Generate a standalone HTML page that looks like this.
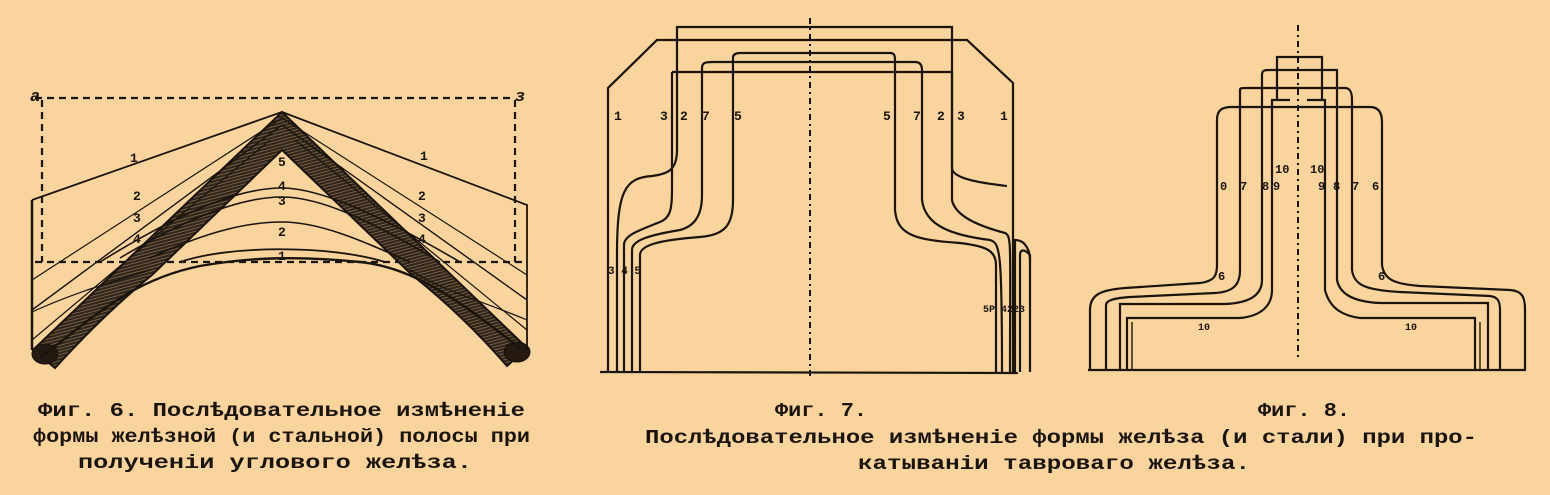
<!DOCTYPE html>
<html><head><meta charset="utf-8"><style>
html,body{margin:0;padding:0;background:#f9d49d;}
svg{display:block}
text{font-family:"Liberation Mono","DejaVu Sans Mono",monospace;font-weight:bold;fill:#1a140c}
</style></head><body>
<svg width="1550" height="495" viewBox="0 0 1550 495" xmlns="http://www.w3.org/2000/svg">
<defs>
<pattern id="h" width="3" height="3" patternUnits="userSpaceOnUse" patternTransform="rotate(-15)">
<rect width="3" height="3" fill="#2e2419"/><line x1="0" y1="1" x2="3" y2="1" stroke="#a88560" stroke-width="0.6"/>
</pattern>
</defs>
<g fill="none" stroke="#1a140c">
<!-- Fig 6 -->
<g stroke-width="2.2" stroke-dasharray="7,5">
<line x1="35" y1="98" x2="515" y2="98"/>
<line x1="42" y1="100" x2="42" y2="262"/>
<line x1="515" y1="100" x2="515" y2="262"/>
<line x1="35" y1="262" x2="525" y2="262"/>
</g>
<path d="M33,350 L282,112 L527,348 L507,366 C480,335 450,305 412,275 L282,150 L152,275 C115,305 85,335 55,368 Z" fill="url(#h)" stroke-width="2"/>
<ellipse cx="45" cy="354" rx="13" ry="10" fill="#241a12"/>
<ellipse cx="517" cy="352" rx="13" ry="10" fill="#241a12"/>
<path d="M40,358 C90,320 130,280 200,266 C250,257 300,256 360,262 C420,268 470,310 520,348" stroke-width="2.4"/>
<path d="M32,200 L282,112 L527,205 L527,350" stroke-width="1.8"/>
<path d="M32,200 V350" stroke-width="2.5"/>
<path d="M32,280 L282,118 L527,275" stroke-width="1.2"/>
<path d="M32,310 L282,125 L527,300" stroke-width="1.4"/>
<path d="M32,340 L270,140 M295,140 L527,330" stroke-width="1.2"/>
<path d="M180,262 C230,245 330,245 385,262" stroke-width="1.8"/>
<path d="M150,258 C210,230 250,222 282,222 C320,222 360,240 410,262" stroke-width="1.6"/>
<path d="M120,258 C200,210 250,197 282,197 C320,197 370,220 440,262" stroke-width="1.6"/>
<path d="M100,262 C200,200 250,188 282,188 C320,188 380,215 460,262" stroke-width="1.6"/>
<path d="M32,312 C80,290 120,280 150,270 M527,320 C480,300 440,290 410,270" stroke-width="1.2"/>
<!-- Fig 7 -->
<g stroke-width="2.2">
<path d="M608,372 V88 L657,40 H967 L1013,83 V372"/>
<line x1="600" y1="372" x2="1018" y2="373"/>
<path d="M617,372 V255 C617,190 625,178 652,176 C668,174 677,170 677,150 V27 H952 V168 C952,180 990,184 1007,186"/>
<path d="M672,72 H952"/>
<path d="M624,372 V245 C624,235 640,230 660,222 C670,218 672,210 672,190 V72"/>
<path d="M952,72 V200 C955,215 975,225 1005,233 C1012,236 1010,245 1010,372"/>
<path d="M632,372 V250 C632,240 650,235 680,230 C695,226 702,215 702,195 V68 C702,63 705,62 712,62 H915 C920,62 922,65 922,70 V200 C925,225 950,235 990,240 C1000,243 1002,250 1002,372"/>
<path d="M640,372 V255 C640,245 660,240 700,237 C725,235 733,225 733,200 V58 C733,54 736,53 740,53 H890 C894,53 895,55 895,60 V210 C897,235 915,240 960,243 C985,246 996,250 996,265 V372"/>
<path d="M1020,372 V255 C1020,250 1024,248 1030,255 V372"/>
<path d="M1015,372 V240 C1025,240 1030,250 1030,260"/>
</g>
<line x1="810" y1="18" x2="810" y2="378" stroke-width="2" stroke-dasharray="6,4,2,4"/>
<!-- Fig 8 -->
<line x1="1298" y1="25" x2="1298" y2="360" stroke-width="2" stroke-dasharray="6,4,2,4"/>
<g stroke-width="2.2">
<path d="M1090,370 V310 C1090,295 1100,290 1125,288 L1200,283 C1215,281 1217,275 1217,265 V120 C1217,110 1222,107 1232,107 H1370 C1378,107 1382,112 1382,122 V265 C1384,280 1395,284 1420,286 L1510,290 C1523,291 1525,298 1525,310 V370"/>
<line x1="1088" y1="370" x2="1526" y2="370"/>
<path d="M1106,370 V305 C1106,300 1115,298 1130,297 L1215,293 C1233,292 1240,285 1240,270 V90 C1240,88 1242,88 1246,88 H1345 C1350,88 1352,92 1352,100 V270 C1354,285 1365,290 1400,292 L1490,296 C1497,297 1500,300 1500,310 V370"/>
<path d="M1120,370 V304 H1225 C1250,303 1262,295 1262,280 V75 C1262,70 1265,70 1270,70 H1337 V280 C1340,295 1355,302 1380,303 H1488 V370"/>
<path d="M1127,370 V318 H1240 C1262,316 1272,305 1272,290 V100 H1290 M1307,100 H1325 V290 C1330,310 1345,316 1360,318 H1475 V370"/>
<path d="M1277,100 V57 H1322 V100"/>
<path d="M1132,370 V322 M1480,370 V322" stroke-width="1.4"/>
</g>
</g>
<!-- Fig6 labels -->
<g font-size="13">
<text x="30" y="101" font-size="17" font-style="italic">a</text>
<text x="515" y="101" font-size="17" font-style="italic">ɜ</text>
<text x="130" y="162">1</text><text x="420" y="160">1</text>
<text x="133" y="200">2</text><text x="418" y="200">2</text>
<text x="133" y="222">3</text><text x="418" y="222">3</text>
<text x="133" y="243">4</text><text x="418" y="243">4</text>
<text x="278" y="166">5</text><text x="278" y="190">4</text><text x="278" y="205">3</text><text x="278" y="236">2</text><text x="278" y="260">1</text>
</g>
<!-- Fig7 labels -->
<g font-size="13">
<text x="614" y="120">1</text><text x="660" y="120">3</text><text x="680" y="120">2</text><text x="702" y="120">7</text><text x="734" y="120">5</text>
<text x="883" y="120">5</text><text x="913" y="120">7</text><text x="937" y="120">2</text><text x="957" y="120">3</text><text x="1000" y="120">1</text>
<text x="608" y="274" font-size="11">3 4 5</text>
<text x="983" y="312" font-size="10">5P 4223</text>
</g>
<!-- Fig8 labels -->
<g font-size="12">
<text x="1220" y="190">0</text><text x="1240" y="190">7</text><text x="1262" y="190">8</text><text x="1273" y="190">9</text>
<text x="1318" y="190">9</text><text x="1333" y="190">8</text><text x="1352" y="190">7</text><text x="1372" y="190">6</text>
<text x="1275" y="173">10</text><text x="1310" y="173">10</text>
<text x="1218" y="280">6</text><text x="1378" y="280">6</text>
<text x="1198" y="330" font-size="10">10</text><text x="1405" y="330" font-size="10">10</text>
</g>
<!-- captions -->
<g font-size="19">
<text x="38" y="416" textLength="487" lengthAdjust="spacingAndGlyphs">Фиг. 6. Послѣдовательное измѣненіе</text>
<text x="33" y="442" textLength="497" lengthAdjust="spacingAndGlyphs">формы желѣзной (и стальной) полосы при</text>
<text x="78" y="468" textLength="394" lengthAdjust="spacingAndGlyphs">полученіи углового желѣза.</text>
<text x="775" y="416" textLength="92" lengthAdjust="spacingAndGlyphs">Фиг. 7.</text>
<text x="1258" y="416" textLength="92" lengthAdjust="spacingAndGlyphs">Фиг. 8.</text>
<text x="645" y="443" textLength="832" lengthAdjust="spacingAndGlyphs">Послѣдовательное измѣненіе формы желѣза (и стали) при про-</text>
<text x="858" y="469" textLength="392" lengthAdjust="spacingAndGlyphs">катываніи тавроваго желѣза.</text>
</g>
</svg>
</body></html>
